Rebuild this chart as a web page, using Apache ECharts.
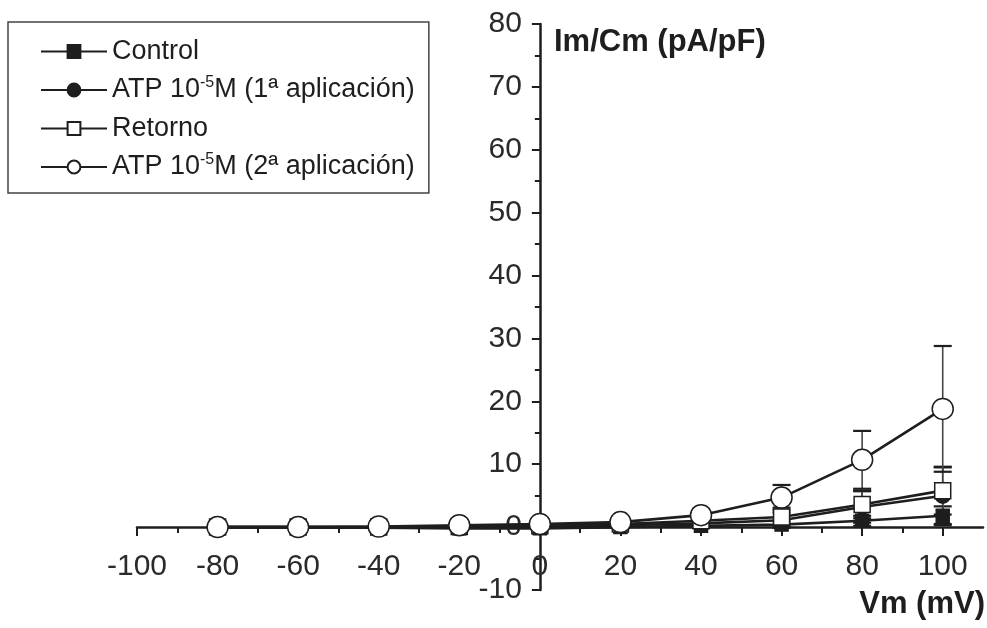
<!DOCTYPE html>
<html>
<head>
<meta charset="utf-8">
<script src="https://cdn.jsdelivr.net/npm/echarts@6/dist/echarts.min.js"></script>
<style>
	html, body { margin: 0; padding: 0; background: #fff; }
	#charts { width: 987px; height: 628px; }
</style>
</head>
<body>
<div id="charts"></div>
<script>
// 电压 (mV)
var volts = [-80, -60, -40, -20, 0, 20, 40, 60, 80, 100];

// Im/Cm (pA/pF) 各组均值
var control = [0, 0, -0.1, -0.2, -0.2, 0, 0.2, 0.4, 1.0, 1.8];
var atp1 = [0, 0, 0, 0.1, 0.1, 0.3, 0.6, 1.1, 3.2, 5.0];
var retorno = [0, 0, 0, 0.1, 0.2, 0.5, 1.0, 1.6, 3.6, 5.8];
var atp2 = [0, 0, 0.1, 0.3, 0.5, 0.8, 1.9, 4.7, 10.7, 18.8];

// 误差 (SEM)
var controlErr = [0.2, 0.2, 0.2, 0.2, 0.2, 0.2, 0.3, 0.5, 0.8, 1.5];
var atp1Err = [0.2, 0.2, 0.2, 0.3, 0.3, 0.4, 0.6, 1.2, 2.5, 4.5];
var retornoErr = [0.2, 0.2, 0.2, 0.3, 0.3, 0.5, 0.8, 1.5, 2.2, 3.8];
var atp2Err = [0.4, 0.4, 0.5, 0.6, 0.6, 0.8, 1.0, 2.0, 4.6, 10.0];

// 坐标轴刻度
var xTicks = [-100, -80, -60, -40, -20, 0, 20, 40, 60, 80, 100];

var names = [
	'Control',
	'ATP 10-5M (1ª aplicación)',
	'Retorno',
	'ATP 10-5M (2ª aplicación)'
];

var ink = '#1e1e1e';
var font = '"Liberation Sans", Arial, sans-serif';

// 绘图区 (像素)
var gLeft = 137, gRight = 4, gTop = 24, gBottom = 38;
var xMin = -100, xMax = 110, yMin = -10, yMax = 80;
var gW = 987 - gLeft - gRight, gH = 628 - gTop - gBottom;
// 坐标轴交于原点
var yAxisOffset = -(0 - xMin) / (xMax - xMin) * gW;
var xAxisOffset = -(0 - yMin) / (yMax - yMin) * gH;

function pairs(vals) {
	return volts.map(function (v, i) { return [v, vals[i]]; });
}

function errSeries(vals, errs) {
	return {
		type: 'custom',
		silent: true,
		z: 1,
		encode: { x: 0, y: [1, 2] },
		data: volts.map(function (v, i) { return [v, vals[i] - errs[i], vals[i] + errs[i]]; }),
		renderItem: function (params, api) {
			var x = api.value(0);
			var lo = api.coord([x, api.value(1)]);
			var hi = api.coord([x, api.value(2)]);
			var w = 9;
			return {
				type: 'group',
				children: [
					{ type: 'line', shape: { x1: lo[0], y1: lo[1], x2: hi[0], y2: hi[1] }, style: { stroke: '#444', lineWidth: 1.6 } },
					{ type: 'line', shape: { x1: hi[0] - w, y1: hi[1], x2: hi[0] + w, y2: hi[1] }, style: { stroke: ink, lineWidth: 2.2 } },
					{ type: 'line', shape: { x1: lo[0] - w, y1: lo[1], x2: lo[0] + w, y2: lo[1] }, style: { stroke: ink, lineWidth: 2.2 } }
				]
			};
		}
	};
}

function lineSeries(name, vals, symbol, size, fill) {
	return {
		name: name,
		type: 'line',
		z: 3,
		data: pairs(vals),
		symbol: symbol,
		symbolSize: size,
		showAllSymbol: true,
		lineStyle: { color: ink, width: 2.6 },
		itemStyle: { color: fill, borderColor: ink, borderWidth: 1.5 }
	};
}

var myChart = echarts.init(document.getElementById('charts'));

var option = {
	animation: false,
	grid: { left: gLeft, right: gRight, top: gTop, bottom: gBottom, outerBoundsMode: 'none' },
	legend: {
		orient: 'vertical',
		left: 8,
		top: 22,
		padding: [16, 14, 11, 32],
		itemGap: 10,
		itemWidth: 66,
		itemHeight: 16,
		borderColor: '#444',
		borderWidth: 1.5,
		data: names,
		formatter: function (n) {
			if (n.indexOf('ATP') === 0) {
				var rest = n.slice(n.indexOf('M'));
				return '{t|ATP 10}{s|-5}{t|' + rest + '}';
			}
			return '{t|' + n + '}';
		},
		textStyle: {
			color: ink,
			fontFamily: font,
			fontSize: 27,
			rich: {
				t: { fontSize: 27, fontFamily: font, color: ink, lineHeight: 30 },
				s: { fontSize: 16, fontFamily: font, color: ink, lineHeight: 16, padding: [0, 0, 14, 0] }
			}
		}
	},
	xAxis: {
		type: 'value',
		min: xMin,
		max: xMax,
		interval: 20,
		position: 'bottom',
		offset: xAxisOffset,
		splitLine: { show: false },
		axisLine: { onZero: false, lineStyle: { color: ink, width: 2.5 } },
		axisTick: { length: 9, lineStyle: { color: ink, width: 2 }, customValues: xTicks },
		minorTick: { show: true, splitNumber: 2, length: 6, lineStyle: { color: ink, width: 2 } },
		axisLabel: {
			customValues: xTicks,
			color: '#2a2a2a',
			fontFamily: font,
			fontSize: 30,
			margin: 25
		}
	},
	yAxis: {
		type: 'value',
		min: yMin,
		max: yMax,
		interval: 10,
		position: 'left',
		offset: yAxisOffset,
		splitLine: { show: false },
		axisLine: { onZero: false, lineStyle: { color: ink, width: 2.5 } },
		axisTick: { length: 8, lineStyle: { color: ink, width: 2 } },
		minorTick: { show: true, splitNumber: 2, length: 5, lineStyle: { color: ink, width: 2 } },
		axisLabel: {
			color: '#2a2a2a',
			fontFamily: font,
			fontSize: 30,
			margin: 18
		}
	},
	graphic: [
		{
			type: 'text', left: 554, top: 27, silent: true,
			style: { text: 'Im/Cm (pA/pF)', fill: ink, font: 'bold 31px ' + font }
		},
		{
			type: 'text', right: 2, top: 589, silent: true,
			style: { text: 'Vm (mV)', fill: ink, font: 'bold 31px ' + font }
		}
	],
	series: [
		errSeries(control, controlErr),
		errSeries(atp1, atp1Err),
		errSeries(retorno, retornoErr),
		errSeries(atp2, atp2Err),
		lineSeries(names[0], control, 'rect', 13, ink),
		lineSeries(names[1], atp1, 'circle', 15, ink),
		lineSeries(names[2], retorno, 'rect', 16, '#fff'),
		lineSeries(names[3], atp2, 'circle', 21, '#fff')
	]
};

myChart.setOption(option);
</script>
</body>
</html>
